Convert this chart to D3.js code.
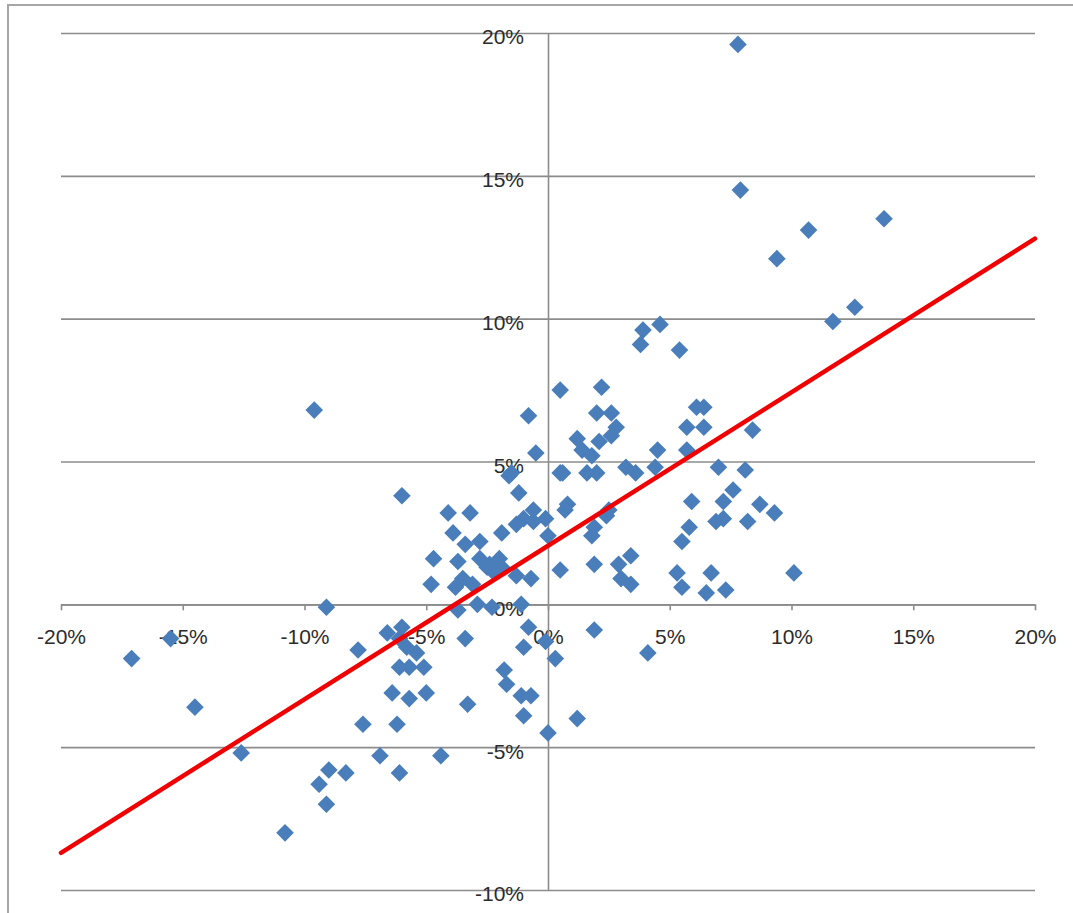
<!DOCTYPE html>
<html>
<head>
<meta charset="utf-8">
<script src="https://cdn.jsdelivr.net/npm/d3@7/dist/d3.min.js"></script>
<style>
  html, body { margin: 0; padding: 0; background: #fff; }
  svg { display: block; }
  text { font-family: "Liberation Sans", Arial, sans-serif; fill: #2b2b2b; }
</style>
</head>
<body>
<svg id="chart" width="1073" height="913"></svg>
<script>
// Paired returns (percent): horizontal = one series, vertical = the other
const returnX = [
  7.8, 7.9, 13.8, 10.7, 9.4, 12.6, 11.7, 4.6, 3.9, 3.8, 5.4, -9.6, 0.5, 2.2, 2.0, 2.6,
  2.8, 2.6, 1.2, 1.4, 2.1, 1.8, 1.6, 2.0, 0.6, 3.2, 3.6, 4.4, 4.5, 6.1, 6.4, 5.7,
  6.4, 5.7, 8.4, 7.0, 8.1, 7.6, 7.2, 5.9, 8.7, 9.3, 6.9, 7.2, 8.2, 5.8, 5.5, 0.8,
  0.7, 2.5, 2.4, 1.9, 1.8, 1.9, 2.9, 3.4, 3.0, 3.4, 5.3, 5.5, 6.7, 6.5, 7.3, 10.1,
  0.5, -0.8, -0.5, -1.6, -1.5, -1.2, -6.0, -4.1, -3.2, -3.9, -3.4, -2.8, -1.9, -1.3, -1.0, -0.6,
  -0.1, -0.6, 0.0, 0.5, -4.7, -3.7, -2.8, -2.4, -2.0, -1.9, -2.2, -2.5, -1.3, -0.7, -4.8, -3.8,
  -3.5, -3.1, -1.1, -3.7, -2.9, -2.3, -9.1, -6.6, -6.0, -6.1, -5.8, -5.4, -7.8, -6.1, -5.7, -5.1,
  -6.4, -5.7, -5.0, -7.6, -6.2, -3.4, -3.3, -4.4, -6.9, -6.1, -8.3, -9.0, -9.4, -9.1, -10.8, -12.6,
  -0.8, -1.0, 0.3, -1.8, -1.7, -1.1, -0.7, -1.0, 0.0, 1.2, -17.1, -15.5, -14.5, 1.9, 4.1, -0.1
];
const returnY = [
  19.6, 14.5, 13.5, 13.1, 12.1, 10.4, 9.9, 9.8, 9.6, 9.1, 8.9, 6.8, 7.5, 7.6, 6.7, 6.7,
  6.2, 5.9, 5.8, 5.4, 5.7, 5.2, 4.6, 4.6, 4.6, 4.8, 4.6, 4.8, 5.4, 6.9, 6.9, 6.2,
  6.2, 5.4, 6.1, 4.8, 4.7, 4.0, 3.6, 3.6, 3.5, 3.2, 2.9, 3.0, 2.9, 2.7, 2.2, 3.5,
  3.3, 3.3, 3.1, 2.7, 2.4, 1.4, 1.4, 1.7, 0.9, 0.7, 1.1, 0.6, 1.1, 0.4, 0.5, 1.1,
  1.2, 6.6, 5.3, 4.5, 4.6, 3.9, 3.8, 3.2, 3.2, 2.5, 2.1, 2.2, 2.5, 2.8, 3.0, 3.3,
  3.0, 2.9, 2.4, 4.6, 1.6, 1.5, 1.6, 1.4, 1.6, 1.3, 1.1, 1.3, 1.0, 0.9, 0.7, 0.6,
  0.9, 0.7, 0.0, -0.2, 0.0, -0.1, -0.1, -1.0, -0.8, -1.2, -1.5, -1.7, -1.6, -2.2, -2.2, -2.2,
  -3.1, -3.3, -3.1, -4.2, -4.2, -1.2, -3.5, -5.3, -5.3, -5.9, -5.9, -5.8, -6.3, -7.0, -8.0, -5.2,
  -0.8, -1.5, -1.9, -2.3, -2.8, -3.2, -3.2, -3.9, -4.5, -4.0, -1.9, -1.2, -3.6, -0.9, -1.7, -1.3
];

// Linear trend line, evaluated at the two ends of the horizontal range
const trendX = [-20, 20];
const trendY = [-8.7, 12.8];

// Tick values (percent)
const xTicks = [-20, -15, -10, -5, 0, 5, 10, 15, 20];
const yTicks = [-10, -5, 0, 5, 10, 15, 20];

const svg = d3.select("#chart");

const x = d3.scaleLinear().domain([-20, 20]).range([61, 1035]);
const y = d3.scaleLinear().domain([-10, 20]).range([890, 33]);
const pct = d => d + "%";

const gridColor = "#8c8c8c";
const labelFont = "'Liberation Sans', Arial, sans-serif";

// Outer chart frame (right and bottom edges run past the visible area)
svg.append("rect")
  .attr("x", 8).attr("y", 5)
  .attr("width", 1100).attr("height", 1000)
  .attr("fill", "none")
  .attr("stroke", "#a6a6a6")
  .attr("stroke-width", 2);

// Horizontal gridlines
const grid = svg.append("g")
  .attr("transform", `translate(${x(-20)},0)`)
  .call(d3.axisLeft(y).tickValues(yTicks).tickSize(-(x(20) - x(-20))).tickFormat(""));
grid.select(".domain").remove();
grid.selectAll(".tick line").attr("stroke", gridColor).attr("stroke-width", 1.6);

// Horizontal axis through zero
const xAxis = svg.append("g")
  .attr("transform", `translate(0,${y(0)})`)
  .call(d3.axisBottom(x).tickValues(xTicks).tickSize(6).tickSizeOuter(0)
    .tickPadding(19).tickFormat(pct));
xAxis.select(".domain").attr("stroke", gridColor).attr("stroke-width", 1.6);
xAxis.selectAll(".tick line").attr("stroke", gridColor).attr("stroke-width", 1.6);
xAxis.selectAll(".tick text")
  .attr("font-size", 21).attr("fill", "#2b2b2b")
  .style("font-family", labelFont);

// Vertical axis through zero
const yAxis = svg.append("g")
  .attr("transform", `translate(${x(0)},0)`)
  .call(d3.axisLeft(y).tickValues(yTicks).tickSize(0).tickSizeOuter(0)
    .tickPadding(24).tickFormat(pct));
yAxis.select(".domain").attr("stroke", gridColor).attr("stroke-width", 1.6);
yAxis.selectAll(".tick text")
  .attr("font-size", 21).attr("fill", "#2b2b2b").attr("dy", "0.52em")
  .style("font-family", labelFont);

// Scatter markers (diamonds)
const diamond = d3.symbol().type(d3.symbolSquare).size(155);
svg.append("g")
  .selectAll("path")
  .data(d3.range(returnX.length))
  .join("path")
  .attr("d", diamond)
  .attr("transform", i => `translate(${x(returnX[i])},${y(returnY[i])}) rotate(45)`)
  .attr("fill", "#4a7ebb");

// Trend line
svg.append("path")
  .datum(d3.range(trendX.length))
  .attr("d", d3.line().x(i => x(trendX[i])).y(i => y(trendY[i])))
  .attr("fill", "none")
  .attr("stroke", "#f00000")
  .attr("stroke-width", 4.5)
  .attr("stroke-linecap", "round");
</script>
</body>
</html>
